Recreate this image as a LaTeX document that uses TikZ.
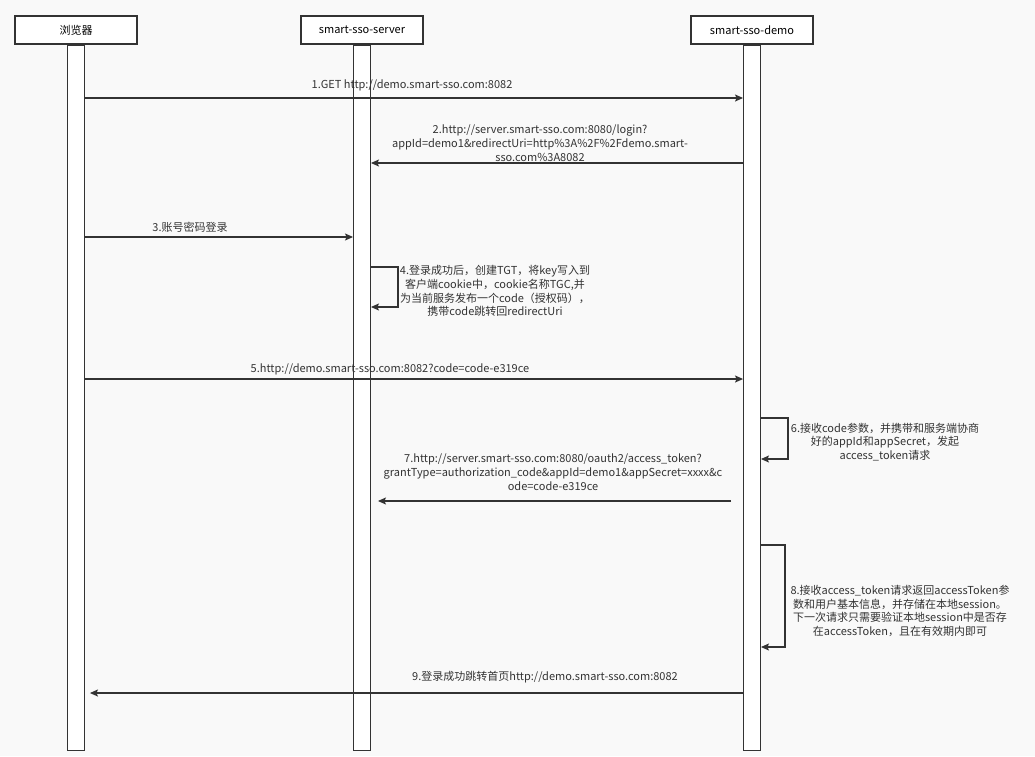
\documentclass[tikz,border=0pt]{standalone}
\usepackage{fontspec}
\setmainfont{Noto Sans CJK SC}
\usetikzlibrary{positioning,arrows.meta,calc}
\definecolor{lnGray}{HTML}{333333}
\definecolor{bgGray}{HTML}{F9F9F9}
\tikzset{
  actorbox/.style={draw=lnGray, line width=1.6pt, fill=white, minimum width=122pt,
                   minimum height=28pt, inner sep=0pt, font=\fontsize{11}{13}\selectfont},
  lifebar/.style={draw=lnGray, line width=0.9pt, fill=white, minimum width=17pt,
                  minimum height=705pt, inner sep=0pt, anchor=north},
  msgarrow/.style={-{Stealth[length=8pt,width=7pt,inset=1.5pt]}, lnGray, line width=1.1pt},
  msglabel/.style={font=\fontsize{11}{13.7}\selectfont, align=center, text=lnGray,
                   inner sep=0pt},
}
\begin{document}
\begin{tikzpicture}[x=1pt, y=-1pt, >=Stealth]
\def\yTop{30}   % y-position of actor boxes
\def\xLoop{27}  % width of self loops

\fill[bgGray] (0,0) rectangle (1035,756);
\useasboundingbox (0,0) rectangle (1035,756);

%% Actors and lifelines
\foreach \name/\xpos/\lbl in {browser/76/浏览器, server/362/smart-sso-server, demo/752/smart-sso-demo} {
  \node[actorbox] (\name) at (\xpos, \yTop) {\lbl};
  \node[lifebar] (\name-bar) at (\name.south) {};
}

%% Straight messages: source / target / y / start gap / end gap
\foreach \src/\dst/\ymsg/\shA/\shB in {
  browser-bar.east/demo-bar.west/98/0/0,
  demo-bar.west/server-bar.east/163/0/0,
  browser-bar.east/server-bar.west/237/0/0,
  browser-bar.east/demo-bar.west/379/0/0,
  demo-bar.west/server-bar.east/501/12/7,
  demo-bar.west/browser-bar.east/693/0/5%
} {
  \draw[msgarrow, shorten <=\shA pt, shorten >=\shB pt] (\src |- 0,\ymsg) -- (\dst |- 0,\ymsg);
}

%% Self messages: bar / top y / bottom y / loop width
\foreach \bar/\yhi/\ylo/\wd in {server-bar/267/307/27, demo-bar/418/459/27, demo-bar/545/647/24} {
  \draw[msgarrow] (\bar.east |- 0,\yhi) -- ++(\wd,0) -- ++(0,\ylo-\yhi) -- (\bar.east |- 0,\ylo);
}

%% Message labels
\node[msglabel] (msg1) at (412,85) {1.GET http://demo.smart-sso.com:8082};
\node[msglabel] (msg2) at (540,143) {2.http://server.smart-sso.com:8080/login?\\appId=demo1\&redirectUri=http\%3A\%2F\%2Fdemo.smart-\\sso.com\%3A8082};
\node[msglabel] (msg3) at (190,227) {3.账号密码登录};
\node[msglabel] (msg4) at (495,291) {4.登录成功后，创建TGT，将key写入到\\客户端cookie中，cookie名称TGC,并\\为当前服务发布一个code（授权码），\\携带code跳转回redirectUri};
\node[msglabel] (msg5) at (390,369) {5.http://demo.smart-sso.com:8082?code=code-e319ce};
\node[msglabel] (msg6) at (885,442) {6.接收code参数，并携带和服务端协商\\好的appId和appSecret，发起\\access\_token请求};
\node[msglabel] (msg7) at (553,472) {7.http://server.smart-sso.com:8080/oauth2/access\_token?\\grantType=authorization\_code\&appId=demo1\&appSecret=xxxx\&c\\ode=code-e319ce};
\node[msglabel] (msg8) at (900,611) {8.接收access\_token请求返回accessToken参\\数和用户基本信息，并存储在本地session。\\下一次请求只需要验证本地session中是否存\\在accessToken，且在有效期内即可};
\node[msglabel] (msg9) at (545,677) {9.登录成功跳转首页http://demo.smart-sso.com:8082};
\end{tikzpicture}
\end{document}
